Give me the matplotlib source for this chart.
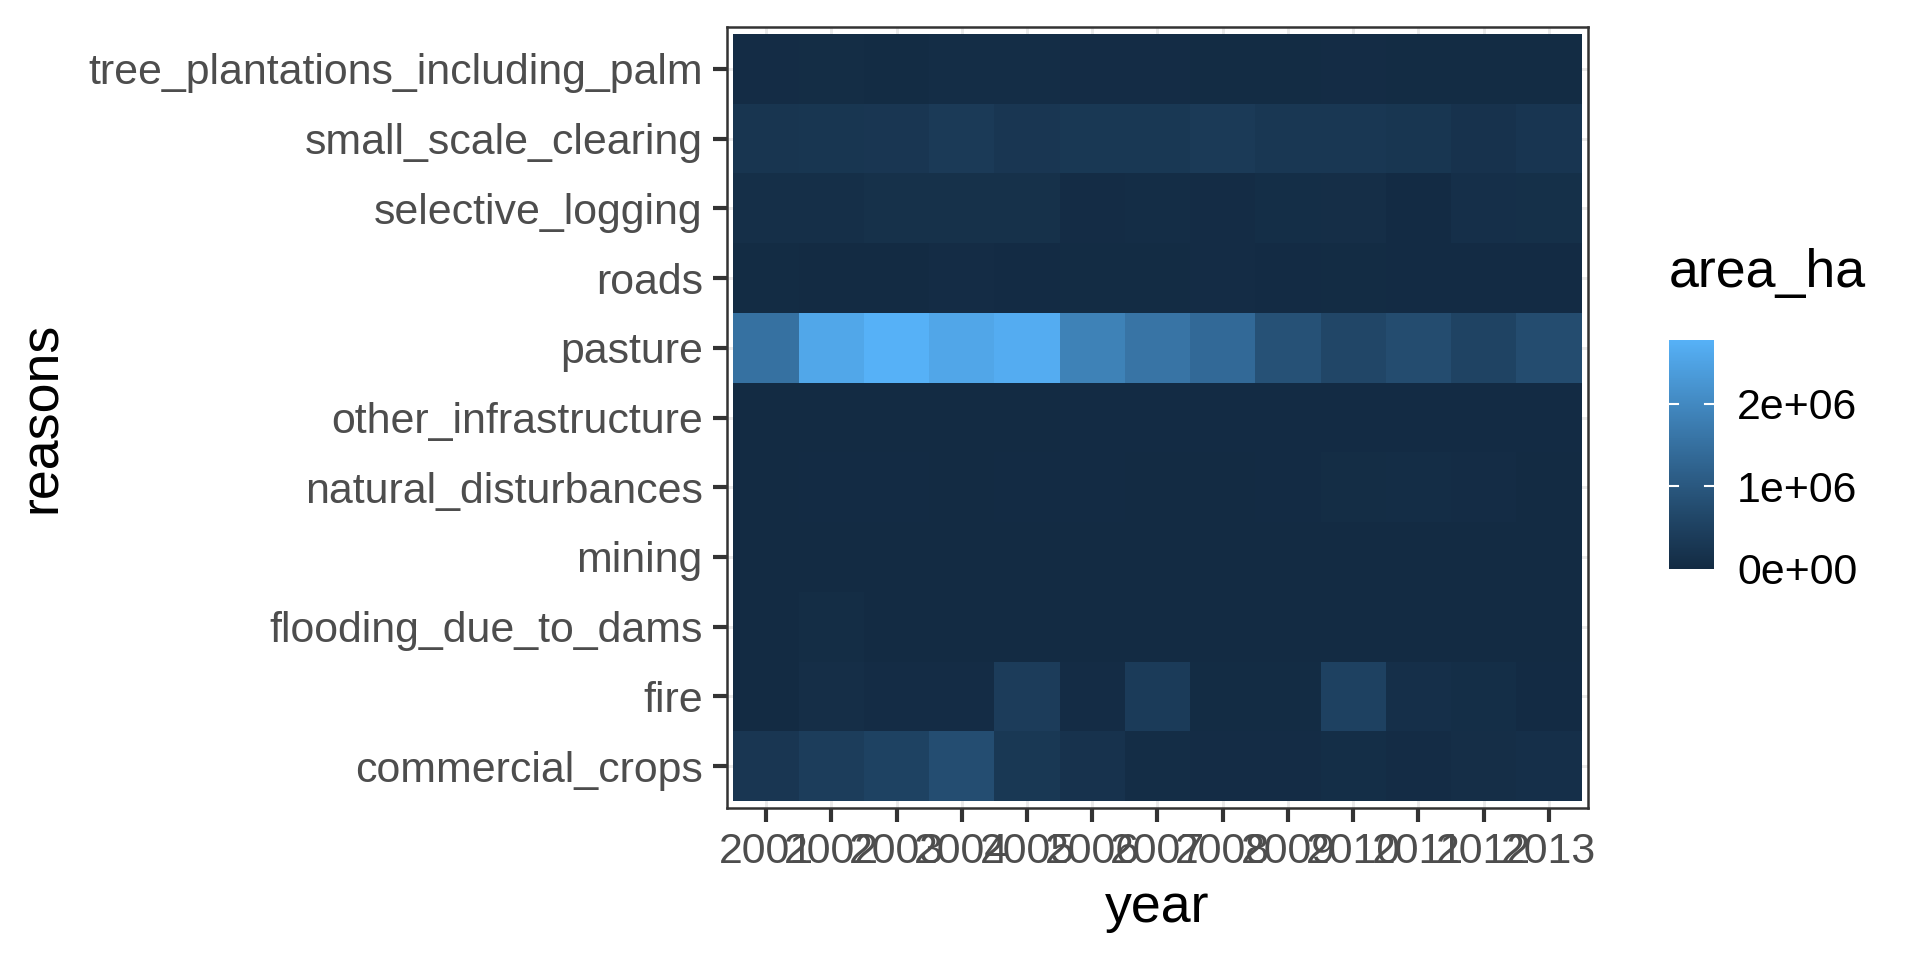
import numpy as np
import matplotlib
matplotlib.use("Agg")
import matplotlib.pyplot as plt
from matplotlib.colors import ListedColormap

plt.rcParams['font.family'] = ['Liberation Sans', 'DejaVu Sans']

years = [2001, 2002, 2003, 2004, 2005, 2006, 2007, 2008, 2009, 2010, 2011, 2012, 2013]
reasons = ['commercial_crops', 'fire', 'flooding_due_to_dams', 'mining',
           'natural_disturbances', 'other_infrastructure', 'pasture', 'roads',
           'selective_logging', 'small_scale_clearing', 'tree_plantations_including_palm']

# area lost in hectares, one list per reason (2001..2013)
commercial_crops = [260000, 420000, 520000, 770000, 300000, 180000, 60000, 40000, 40000, 70000, 40000, 80000, 100000]
fire = [10000, 80000, 40000, 40000, 390000, 40000, 380000, 30000, 30000, 510000, 100000, 70000, 20000]
flooding_due_to_dams = [10000, 50000, 0, 5000, 0, 0, 0, 0, 0, 0, 0, 0, 5000]
mining = [8000, 7000, 6000, 6000, 7000, 8000, 8000, 8000, 7000, 7000, 7000, 7000, 10000]
natural_disturbances = [10000, 20000, 20000, 10000, 15000, 15000, 10000, 10000, 15000, 50000, 60000, 40000, 10000]
other_infrastructure = [10000, 10000, 10000, 10000, 10000, 12000, 12000, 12000, 12000, 12000, 12000, 12000, 12000]
pasture = [1520000, 2570000, 2770000, 2560000, 2680000, 1860000, 1580000, 1370000, 850000, 620000, 750000, 550000, 750000]
roads = [30000, 10000, 10000, 40000, 20000, 30000, 30000, 40000, 20000, 30000, 20000, 20000, 20000]
selective_logging = [90000, 90000, 130000, 130000, 130000, 40000, 60000, 40000, 70000, 80000, 20000, 100000, 110000]
small_scale_clearing = [230000, 250000, 270000, 350000, 270000, 300000, 300000, 350000, 280000, 280000, 250000, 180000, 240000]
tree_plantations_including_palm = [40000, 50000, 30000, 60000, 60000, 40000, 40000, 30000, 30000, 40000, 30000, 30000, 30000]

values = np.array([commercial_crops, fire, flooding_due_to_dams, mining, natural_disturbances,
                   other_infrastructure, pasture, roads, selective_logging,
                   small_scale_clearing, tree_plantations_including_palm], dtype=float)


# ggplot-style gradient (#132B43 -> #56B1F7) interpolated in CIELAB
def srgb_to_lab(rgb):
    c = np.asarray(rgb, dtype=float)
    lin = np.where(c <= 0.04045, c / 12.92, ((c + 0.055) / 1.055) ** 2.4)
    m = np.array([[0.4124, 0.3576, 0.1805], [0.2126, 0.7152, 0.0722], [0.0193, 0.1192, 0.9505]])
    xyz = m @ lin / np.array([0.95047, 1.0, 1.08883])
    f = np.where(xyz > 0.008856, np.cbrt(xyz), 7.787 * xyz + 16 / 116)
    return np.array([116 * f[1] - 16, 500 * (f[0] - f[1]), 200 * (f[1] - f[2])])


def lab_to_srgb(lab):
    L, a, b = lab
    fy = (L + 16) / 116
    fx = fy + a / 500
    fz = fy - b / 200
    f = np.array([fx, fy, fz])
    xyz = np.where(f ** 3 > 0.008856, f ** 3, (f - 16 / 116) / 7.787) * np.array([0.95047, 1.0, 1.08883])
    m = np.array([[3.2406, -1.5372, -0.4986], [-0.9689, 1.8758, 0.0415], [0.0557, -0.2040, 1.0570]])
    lin = m @ xyz
    c = np.where(lin <= 0.0031308, 12.92 * lin, 1.055 * np.clip(lin, 0, None) ** (1 / 2.4) - 0.055)
    return np.clip(c, 0, 1)


lo = srgb_to_lab(np.array([0x13, 0x2B, 0x43]) / 255)
hi = srgb_to_lab(np.array([0x56, 0xB1, 0xF7]) / 255)
cmap = ListedColormap([lab_to_srgb(lo + (hi - lo) * t) for t in np.linspace(0, 1, 256)])

fig = plt.figure(figsize=(6.4, 3.2), dpi=300)
ax = fig.add_axes([0.3786, 0.1583, 0.4485, 0.8136])

xe = np.arange(len(years) + 1) + 0.5
ye = np.arange(len(reasons) + 1) + 0.5
vmax = values.max()
mesh = ax.pcolormesh(xe, ye, values, cmap=cmap, vmin=0, vmax=vmax, zorder=2)

ax.set_xlim(0.4, len(years) + 0.6)
ax.set_ylim(0.4, len(reasons) + 0.6)
ax.set_xticks(np.arange(1, len(years) + 1))
ax.set_xticklabels([str(y) for y in years])
ax.set_yticks(np.arange(1, len(reasons) + 1))
ax.set_yticklabels(reasons)
ax.grid(True, color='#EBEBEB', linewidth=0.7, zorder=0)
ax.set_axisbelow(True)
for s in ax.spines.values():
    s.set_color('#333333')
    s.set_linewidth(0.6)
ax.tick_params(axis='both', colors='#333333', length=3.3, width=1.0, labelsize=10.3,
               labelcolor='#4D4D4D', pad=2.5)
ax.set_xlabel('year', fontsize=12.9, labelpad=2.5)
ax.set_ylabel('reasons', fontsize=12.9, labelpad=5)

cax = fig.add_axes([0.8693, 0.4073, 0.0234, 0.2385])
cb = fig.colorbar(mesh, cax=cax)
cb.outline.set_visible(False)
ticks = [0, 1e6, 2e6]
cb.set_ticks(ticks)
cb.set_ticklabels(['0e+00', '1e+06', '2e+06'])
cax.tick_params(length=0, labelsize=10.3, pad=5.5, labelcolor='black')
for t in ticks[1:]:
    cax.axhline(t, xmin=0, xmax=0.2, color='white', lw=0.5)
    cax.axhline(t, xmin=0.8, xmax=1, color='white', lw=0.5)
fig.text(0.8693, 0.69, 'area_ha', fontsize=12.9, ha='left', va='bottom')

fig.savefig('out.png', dpi=300)
